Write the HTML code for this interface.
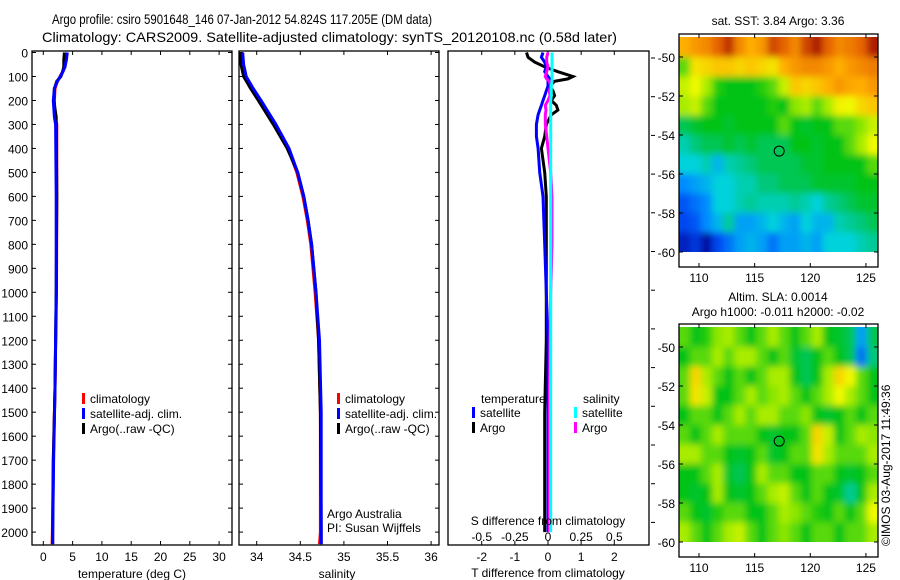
<!DOCTYPE html>
<html><head><meta charset="utf-8"><style>
body{margin:0;background:#fff;}
svg{display:block;font-family:"Liberation Sans",sans-serif;}
text{fill:#000;}
</style></head><body>
<svg id="chart" width="900" height="580" viewBox="0 0 900 580" xmlns="http://www.w3.org/2000/svg">
<defs>
<filter id="blur" x="-0.1" y="-0.1" width="1.2" height="1.2"><feGaussianBlur stdDeviation="3.5"/></filter>
<clipPath id="clipA"><rect x="679" y="37" width="199" height="215"/></clipPath>
<clipPath id="clipB"><rect x="679" y="327" width="199" height="215"/></clipPath>
</defs>
<g id="titles">
<text x="52" y="24" font-size="14" textLength="380" lengthAdjust="spacingAndGlyphs">Argo profile: csiro 5901648_146 07-Jan-2012 54.824S 117.205E (DM data)</text>
<text x="42" y="42" font-size="14" textLength="575" lengthAdjust="spacingAndGlyphs">Climatology: CARS2009. Satellite-adjusted climatology: synTS_20120108.nc (0.58d later)</text>
</g>
<g id="g1"></g><g id="g2"></g><g id="g3"></g><g id="g4"></g><g id="g5"></g>
</svg>
<script>
// ---- data ----
const tDepth=[0,30,60,80,100,120,150,200,270,300,600,1000,1400,1700,2000,2050];
const tClim=[4.0,3.9,3.6,3.3,2.85,2.4,2.0,1.9,2.0,2.3,2.3,2.25,2.0,1.7,1.55,1.5];
const tSat=[4.1,3.95,3.7,3.35,2.9,2.4,1.9,1.7,1.9,2.1,2.2,2.2,2.0,1.75,1.6,1.6];
const tArgo=[3.6,3.5,3.5,3.3,3.0,2.3,1.9,1.8,2.2,2.2,2.3,2.2,2.0,1.7,1.6,1.6];
const sDepth=[0,50,100,150,200,300,400,500,600,700,800,1000,1200,1500,2000,2050];
const sClim=[33.83,33.84,33.87,33.95,34.04,34.21,34.36,34.46,34.53,34.58,34.62,34.67,34.71,34.73,34.73,34.72];
const sSat=[33.84,33.85,33.88,33.96,34.05,34.22,34.37,34.47,34.54,34.59,34.63,34.68,34.72,34.74,34.74,34.74];
const sArgo=[33.82,33.82,33.85,33.93,34.02,34.19,34.35,34.47,34.54,34.59,34.63,34.68,34.71,34.73,34.74,34.74];
const dDepth=[0,20,40,60,80,100,110,120,140,160,180,200,220,240,260,300,350,400,500,600,800,1000,1200,1500,1800,2000];
const dTArgo=[-0.65,-0.6,-0.4,-0.1,0.3,0.75,0.6,0.2,0.05,0.15,0.2,0.1,0.25,0.3,0.1,-0.05,-0.1,-0.2,-0.1,-0.05,-0.05,-0.05,-0.05,-0.1,-0.1,-0.1];
const dTSat=[-0.15,-0.2,-0.1,-0.05,-0.1,0.0,0.05,0.0,0.0,-0.05,-0.1,-0.15,-0.2,-0.25,-0.3,-0.35,-0.35,-0.3,-0.25,-0.15,-0.1,-0.05,0,0,0,0];
const dSSat=[0.03,0.03,0.03,0.03,0.03,0.03,0.03,0.03,0.025,0.025,0.025,0.02,0.02,0.02,0.02,0.02,0.02,0.02,0.02,0.02,0.02,0.02,0.02,0.02,0.02,0.02];
const dSArgo=[0.0,-0.01,-0.01,0.0,-0.01,-0.02,-0.01,0.01,0.02,0.01,0.015,0.0,-0.02,-0.015,-0.02,-0.02,-0.01,0.0,0.02,0.03,0.03,0.02,0.015,0.01,0.01,0.01];
const depthTicks=[0,100,200,300,400,500,600,700,800,900,1000,1100,1200,1300,1400,1500,1600,1700,1800,1900,2000];
const tTicks=[0,5,10,15,20,25,30];
const sTicks=[34,34.5,35,35.5,36];
const dTTicks=[-2,-1,0,1,2];
const dSTicks=[-0.5,-0.25,0,0.25,0.5];
const lonTicks=[110,115,120,125];
const latTicks=[-50,-52,-54,-56,-58,-60];
const sstGrid=[
[0.75,0.78,0.8,0.85,0.9,0.8,0.75,0.78,0.88,0.85,0.8,0.88,0.92,0.85,0.8,0.82,0.85,0.92],
[0.55,0.68,0.7,0.72,0.72,0.7,0.72,0.7,0.68,0.75,0.78,0.8,0.8,0.78,0.75,0.78,0.8,0.82],
[0.62,0.65,0.6,0.52,0.5,0.5,0.5,0.52,0.55,0.62,0.72,0.7,0.72,0.75,0.78,0.76,0.75,0.78],
[0.6,0.62,0.55,0.5,0.5,0.5,0.5,0.5,0.52,0.5,0.58,0.6,0.55,0.6,0.66,0.65,0.7,0.72],
[0.45,0.48,0.5,0.5,0.48,0.5,0.5,0.5,0.5,0.55,0.5,0.48,0.5,0.5,0.55,0.55,0.58,0.62],
[0.38,0.42,0.45,0.45,0.48,0.45,0.48,0.45,0.45,0.45,0.5,0.5,0.48,0.5,0.5,0.55,0.6,0.65],
[0.35,0.35,0.38,0.32,0.38,0.4,0.42,0.45,0.45,0.45,0.45,0.48,0.48,0.5,0.5,0.5,0.5,0.55],
[0.28,0.3,0.32,0.35,0.35,0.38,0.38,0.42,0.42,0.45,0.45,0.45,0.48,0.48,0.48,0.48,0.5,0.5],
[0.22,0.25,0.28,0.35,0.35,0.38,0.4,0.38,0.38,0.38,0.4,0.38,0.35,0.4,0.42,0.45,0.48,0.48],
[0.2,0.22,0.28,0.32,0.4,0.3,0.3,0.32,0.35,0.32,0.3,0.35,0.32,0.32,0.38,0.4,0.42,0.45],
[0.15,0.18,0.12,0.2,0.25,0.3,0.32,0.3,0.25,0.3,0.3,0.32,0.3,0.35,0.35,0.35,0.38,0.4]];
const slaGrid=[
[0.55,0.5,0.52,0.58,0.6,0.55,0.5,0.55,0.6,0.55,0.5,0.55,0.6,0.5,0.48,0.45,0.3,0.45],
[0.5,0.55,0.55,0.6,0.55,0.6,0.6,0.55,0.5,0.55,0.48,0.45,0.5,0.55,0.5,0.45,0.25,0.42],
[0.55,0.7,0.6,0.55,0.5,0.55,0.5,0.55,0.6,0.6,0.5,0.45,0.5,0.6,0.7,0.65,0.55,0.5],
[0.55,0.68,0.62,0.5,0.5,0.55,0.6,0.55,0.58,0.6,0.55,0.5,0.55,0.6,0.65,0.6,0.55,0.5],
[0.5,0.55,0.55,0.5,0.55,0.6,0.55,0.6,0.6,0.55,0.55,0.58,0.5,0.48,0.5,0.55,0.5,0.55],
[0.55,0.5,0.55,0.6,0.55,0.55,0.55,0.5,0.48,0.5,0.5,0.55,0.7,0.62,0.5,0.55,0.6,0.58],
[0.6,0.6,0.55,0.55,0.5,0.48,0.5,0.55,0.48,0.5,0.55,0.55,0.68,0.6,0.55,0.55,0.55,0.6],
[0.5,0.5,0.55,0.6,0.48,0.45,0.5,0.6,0.55,0.55,0.5,0.5,0.55,0.55,0.5,0.48,0.5,0.55],
[0.5,0.48,0.5,0.6,0.5,0.48,0.5,0.55,0.6,0.62,0.55,0.5,0.55,0.5,0.48,0.4,0.5,0.6],
[0.55,0.5,0.48,0.52,0.55,0.55,0.5,0.5,0.55,0.6,0.58,0.55,0.52,0.5,0.55,0.5,0.55,0.65],
[0.6,0.55,0.5,0.55,0.6,0.62,0.55,0.5,0.55,0.58,0.55,0.5,0.55,0.55,0.5,0.55,0.55,0.6]];
const floatLon=117.205, floatLat=-54.824;

// ---- helpers ----
const NS="http://www.w3.org/2000/svg";
function mk(parent,tag,attrs,txt){const e=document.createElementNS(NS,tag);for(const k in attrs)e.setAttribute(k,attrs[k]);if(txt!==undefined)e.textContent=txt;parent.appendChild(e);return e;}
const yD=d=>52.5+d*0.2398;
const PT=51,PB=545;
function box(g,x0,x1,y0,y1,name){const r=mk(g,'rect',{x:x0,y:y0,width:x1-x0,height:y1-y0,fill:'none',stroke:'#000','stroke-width':1.3});

}
function line(g,xs,ys,col,w,name){let d='';for(let i=0;i<xs.length;i++){d+=(i?'L':'M')+xs[i].toFixed(1)+' '+ys[i].toFixed(1);}
const p=mk(g,'path',{d:d,fill:'none',stroke:col,'stroke-width':w,'stroke-linejoin':'miter'});

}
function txt(g,x,y,s,anchor,size,name){const t=mk(g,'text',{x:x,y:y,'font-size':size||12,'text-anchor':anchor||'start'},s);

return t;}
function tk(g,x1,y1,x2,y2){mk(g,'line',{x1:x1,y1:y1,x2:x2,y2:y2,stroke:'#000','stroke-width':1});}
function legend(g,x,y,items,name){items.forEach((it,i)=>{const r=mk(g,'rect',{x:x,y:y+i*15-10,width:3,height:11,fill:it[1]});


txt(g,x+8,y+i*15,it[0],'start',12,name+'-entry');});}

// ---- panel 1: temperature ----
const g1=document.getElementById('g1');


const xT=t=>43.3+t*5.86;
box(g1,32,232,PT,PB,'temperature-axes');
depthTicks.forEach(d=>{tk(g1,32,yD(d),36,yD(d));tk(g1,232,yD(d),228,yD(d));txt(g1,28,yD(d)+5,String(d),'end',12,'depth-tick-label');});
tTicks.forEach(t=>{tk(g1,xT(t),PB,xT(t),PB-4);tk(g1,xT(t),PT,xT(t),PT+4);txt(g1,xT(t),561,String(t),'middle',12,'temperature-tick-label');});
txt(g1,132,578,'temperature (deg C)','middle',12,'x-axis-title-temperature');
line(g1,tClim.map(xT),tDepth.map(yD),'#f00',3,'temperature-climatology-line');
line(g1,tArgo.map(xT),tDepth.map(yD),'#000',3,'temperature-argo-line');
line(g1,tSat.map(xT),tDepth.map(yD),'#00f',3,'temperature-satellite-line');
legend(g1,82,403,[['climatology','#f00'],['satellite-adj. clim.','#00f'],['Argo(..raw -QC)','#000']],'temperature-legend');

// ---- panel 2: salinity ----
const g2=document.getElementById('g2');


const xS=s=>256.7+(s-34)*87.2;
box(g2,239,439,PT,PB,'salinity-axes');
depthTicks.forEach(d=>{tk(g2,239,yD(d),243,yD(d));tk(g2,439,yD(d),435,yD(d));});
sTicks.forEach(s=>{tk(g2,xS(s),PB,xS(s),PB-4);tk(g2,xS(s),PT,xS(s),PT+4);txt(g2,xS(s),561,String(s),'middle',12,'salinity-tick-label');});
txt(g2,337,578,'salinity','middle',12,'x-axis-title-salinity');
line(g2,sClim.map(xS),sDepth.map(yD),'#f00',3,'salinity-climatology-line');
line(g2,sArgo.map(xS),sDepth.map(yD),'#000',3,'salinity-argo-line');
line(g2,sSat.map(xS),sDepth.map(yD),'#00f',3,'salinity-satellite-line');
legend(g2,337,403,[['climatology','#f00'],['satellite-adj. clim.','#00f'],['Argo(..raw -QC)','#000']],'salinity-legend');
txt(g2,327,518,'Argo Australia','start',12,'argo-australia-label');
txt(g2,327,532,'PI: Susan Wijffels','start',12,'pi-label');

// ---- panel 3: differences ----
const g3=document.getElementById('g3');


const xDT=t=>548+t*33.15;
const xDS=s=>xDT(s*4);
box(g3,448,649,PT,PB,'difference-axes');
dTTicks.forEach(t=>{tk(g3,xDT(t),PT,xDT(t),PT+4);txt(g3,xDT(t),561,String(t),'middle',12,'t-diff-tick-label');});
dSTicks.forEach(s=>{tk(g3,xDS(s),PB,xDS(s),PB-4);txt(g3,xDS(s),541,String(s),'middle',12,'s-diff-tick-label');});
for(let y=58;y<PB;y+=38.7){tk(g3,651,y,655,y);}
line(g3,dTArgo.map(xDT),dDepth.map(yD),'#000',3,'t-diff-argo-line');
line(g3,dTSat.map(xDT),dDepth.map(yD),'#00f',3,'t-diff-satellite-line');
line(g3,dSArgo.map(xDS),dDepth.map(yD),'#f0f',3,'s-diff-argo-line');
line(g3,dSSat.map(xDS),dDepth.map(yD),'#0ff',3,'s-diff-satellite-line');
txt(g3,481,403,'temperature','start',12,'legend-title-temperature');
txt(g3,583,403,'salinity','start',12,'legend-title-salinity');
legend(g3,472,417,[['satellite','#00f'],['Argo','#000']],'t-diff-legend');
legend(g3,574,417,[['satellite','#0ff'],['Argo','#f0f']],'s-diff-legend');
txt(g3,548,525,'S difference from climatology','middle',12,'s-diff-axis-title');
txt(g3,548,577,'T difference from climatology','middle',12,'t-diff-axis-title');

// ---- maps ----
const cmapStops=[[0.1,[0,0,140]],[0.2,[0,70,240]],[0.28,[0,140,255]],[0.35,[0,210,220]],[0.42,[0,200,120]],[0.5,[0,195,20]],[0.58,[140,230,0]],[0.65,[240,250,0]],[0.75,[255,175,0]],[0.85,[230,100,0]],[0.95,[150,0,0]]];
function cmap(v){if(v<=cmapStops[0][0])return 'rgb('+cmapStops[0][1].join(',')+')';
for(let i=1;i<cmapStops.length;i++){if(v<=cmapStops[i][0]){const a=cmapStops[i-1],b=cmapStops[i],f=(v-a[0])/(b[0]-a[0]);
return 'rgb('+a[1].map((c,k)=>Math.round(c+(b[1][k]-c)*f)).join(',')+')';}}
return 'rgb('+cmapStops[cmapStops.length-1][1].join(',')+')';}
function map(g,top,grid,name,clip){
const lonX=l=>699+(l-110)*11.13;
const latY=l=>top+23+(-50-l)*19.5;
const x0=679,x1=878,yTop=top,yBot=top+233;
const rows=grid.length,cols=grid[0].length;
const dLat=(latY(-60)-latY(-49))/rows;
const dLon=(x1-x0)/cols;
const P=14;
const cg=mk(g,'g',{'clip-path':'url(#'+clip+')'});
const fg=mk(cg,'g',{filter:'url(#blur)'});
grid.forEach((row,i)=>row.forEach((v,j)=>{
let x=x0+j*dLon,y=latY(-49)+i*dLat,w=dLon+0.6,h=dLat+0.6;
if(j===0){x-=P;w+=P;} if(j===cols-1){w+=P;}
if(i===0){y-=P;h+=P;} if(i===rows-1){h+=P;}
const r=mk(fg,'rect',{x:x.toFixed(2),y:y.toFixed(2),width:w.toFixed(2),height:h.toFixed(2),fill:cmap(v)});

}));
box(g,x0,x1,yTop,yBot,name+'-axes');
lonTicks.forEach(l=>{tk(g,lonX(l),yTop,lonX(l),yTop+4);tk(g,lonX(l),yBot,lonX(l),yBot-4);txt(g,lonX(l),yBot+15,String(l),'middle',12,name+'-lon-label');});
latTicks.forEach(l=>{tk(g,x0,latY(l),x0+4,latY(l));tk(g,x1,latY(l),x1-4,latY(l));txt(g,675,latY(l)+5,String(l),'end',12,name+'-lat-label');});
const c=mk(g,'circle',{cx:lonX(floatLon),cy:latY(floatLat),r:5,fill:'none',stroke:'#000','stroke-width':1});


}
const g4=document.getElementById('g4');


txt(g4,778,25,'sat. SST: 3.84 Argo: 3.36','middle',12,'sst-map-title');
map(g4,34,sstGrid,'sst-map','clipA');
const g5=document.getElementById('g5');


txt(g5,778,301,'Altim. SLA: 0.0014','middle',12,'sla-map-title-1');
txt(g5,778,316,'Argo h1000: -0.011 h2000: -0.02','middle',12,'sla-map-title-2');
map(g5,324,slaGrid,'sla-map','clipB');
const stamp=txt(g5,0,0,'©IMOS 03-Aug-2017 11:49:36','start',12,'imos-timestamp');
stamp.setAttribute('transform','translate(890,546) rotate(-90)');
</script>
</body></html>
